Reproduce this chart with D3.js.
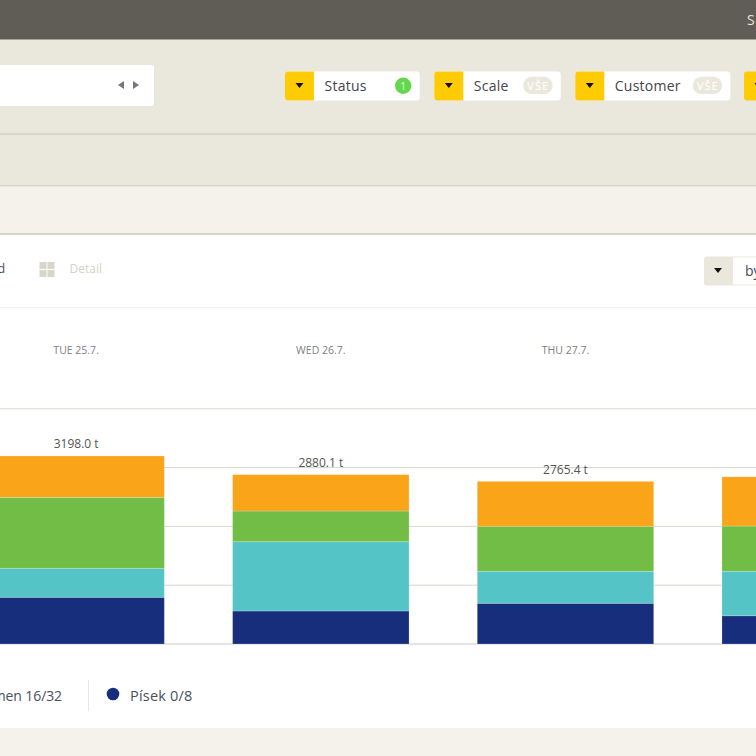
<!DOCTYPE html>
<html>
<head>
<meta charset="utf-8">
<script src="https://cdn.jsdelivr.net/npm/d3@7"></script>
<style>
html, body { margin: 0; padding: 0; width: 756px; height: 756px; overflow: hidden; background: #fff; }
svg { display: block; }
text { font-family: "Open Sans", "Noto Sans", sans-serif; }
</style>
</head>
<body>
<script>
var days = ["TUE 25.7.", "WED 26.7.", "THU 27.7.", "FRI 28.7."];
var totals = [3198.0, 2880.1, 2765.4, 2844.2];
var seriesKeys = ["pisek", "kamen", "serie3", "serie4"];
var pisek = [794, 561, 692, 481];
var kamen = [493, 1179, 544, 755];
var serie3 = [1207, 522, 765, 770];
var serie4 = [704, 618.1, 764.4, 838.2];
var gridTicks = [0, 1000, 2000, 3000, 4000];
var filterLabels = ["Status", "Scale", "Customer"];
var filterBadges = ["1", "VŠE", "VŠE"];
var legendLabels = ["Kámen 16/32", "Písek 0/8"];

var seriesColors = ["#172e7c", "#54c4c7", "#71bd46", "#faa41a"];

var svg = d3.select("body").append("svg").attr("width", 756).attr("height", 756);

function band(y, h, color) {
    svg.append("rect").attr("x", 0).attr("y", y).attr("width", 756).attr("height", h).attr("fill", color);
}
function hline(y, color) {
    svg.append("line").attr("x1", 0).attr("x2", 756).attr("y1", y).attr("y2", y).attr("stroke", color);
}
function arrow(cx, cy, color) {
    svg.append("path").attr("d", "M" + (cx - 4) + " " + (cy - 2.5) + "h8l-4 5z").attr("fill", color);
}

// page bands
band(0, 40, "#5f5d56");
band(39, 1, "#a9a798");
band(40, 147, "#eae8dc");
band(133, 2, "#d8d6c8");
hline(185.5, "#d8d6c8");
band(187, 47, "#f5f2eb");
band(233, 2, "#d8d6c8");
band(235, 493, "#ffffff");
band(728, 28, "#f5f2eb");
hline(307.5, "#f2f0ea");

svg.append("text").attr("x", 747).attr("y", 25).attr("fill", "#e8e6da").style("font-size", "14px").text("S");

// date box
svg.append("rect").attr("x", -10).attr("y", 65).attr("width", 164).attr("height", 41).attr("rx", 3).attr("fill", "#fff");
svg.append("path").attr("d", "M124 81v8l-6-4z").attr("fill", "#777");
svg.append("path").attr("d", "M133 81v8l6-4z").attr("fill", "#777");

// filter chips
var chipX = [285, 434.3, 575.3, 744];
var chipW = [134.7, 126.4, 155, 60];
filterLabels.forEach(function (label, i) {
    var x = chipX[i], w = chipW[i];
    svg.append("rect").attr("x", x).attr("y", 71.5).attr("width", w).attr("height", 29).attr("rx", 3).attr("fill", "#fff");
    svg.append("path").attr("d", "M" + (x + 3) + " 71.5h26v29h-26a3 3 0 0 1-3-3v-23a3 3 0 0 1 3-3z").attr("fill", "#fecb05");
    arrow(x + 14.5, 85.5, "#111");
    svg.append("text").attr("x", x + 39.5).attr("y", 91).attr("fill", "#44444a").style("font-size", "14px").style("letter-spacing", "0.25px").text(label);
    if (i === 0) {
        svg.append("circle").attr("cx", x + w - 16.5).attr("cy", 85.7).attr("r", 8.2).attr("fill", "#62d84c");
        svg.append("text").attr("x", x + w - 16.5).attr("y", 89.5).attr("text-anchor", "middle").attr("fill", "#f4f4e8").style("font-size", "10px").text(filterBadges[i]);
    } else {
        svg.append("rect").attr("x", x + w - 37.5).attr("y", 76.7).attr("width", 29.4).attr("height", 17.4).attr("rx", 8.7).attr("fill", "#eae8dc");
        svg.append("text").attr("x", x + w - 22.6).attr("y", 89.8).attr("text-anchor", "middle").attr("fill", "#fdfcf8").style("font-size", "11px").style("font-weight", "600").style("letter-spacing", "1px").text(filterBadges[i]);
    }
});
svg.append("path").attr("d", "M747 71.5h29v29h-29a3 3 0 0 1-3-3v-23a3 3 0 0 1 3-3z").attr("fill", "#fecb05");
arrow(758.5, 85.5, "#111");

// toolbar
svg.append("text").attr("x", 5).attr("y", 273).attr("text-anchor", "end").attr("fill", "#3d4a5c").style("font-size", "12px").text("Standard");
[[39.5, 262], [47.5, 262], [39.5, 270], [47.5, 270]].forEach(function (p) {
    svg.append("rect").attr("x", p[0]).attr("y", p[1]).attr("width", 7).attr("height", 7).attr("fill", "#d8d6c8");
});
svg.append("text").attr("x", 69.5).attr("y", 273).attr("fill", "#d4d2c4").style("font-size", "12px").text("Detail");
svg.append("rect").attr("x", 704).attr("y", 256.5).attr("width", 60).attr("height", 29).attr("rx", 3).attr("fill", "#eae8dc");
svg.append("rect").attr("x", 733).attr("y", 257.5).attr("width", 30).attr("height", 27).attr("fill", "#fff");
arrow(718, 270.5, "#111");
svg.append("text").attr("x", 745).attr("y", 276).attr("fill", "#3d4a5c").style("font-size", "14px").text("by");

// chart
var x = d3.scaleBand().domain(days).range([-46.2, 932.5]).paddingInner(0.279).paddingOuter(0.1395);
var y = d3.scaleLinear().domain([0, 4000]).range([644, 408.8]);

var grid = d3.axisLeft(y).tickValues(gridTicks).tickSize(-756).tickFormat("").offset(0);
svg.append("g").call(grid).call(function (g) {
    g.select(".domain").remove();
    g.selectAll(".tick line").attr("stroke", function (d) { return d === 0 ? "#c9c9c9" : "#d8d7c9"; });
});

var rows = days.map(function (d, i) {
    return { day: d, pisek: pisek[i], kamen: kamen[i], serie3: serie3[i], serie4: serie4[i] };
});
var stacked = d3.stack().keys(seriesKeys)(rows);

svg.append("g").selectAll("g").data(stacked).join("g")
    .attr("fill", function (d, i) { return seriesColors[i]; })
    .selectAll("rect").data(function (d) { return d; }).join("rect")
    .attr("x", function (d) { return x(d.data.day); })
    .attr("y", function (d) { return y(d[1]); })
    .attr("width", x.bandwidth())
    .attr("height", function (d) { return y(d[0]) - y(d[1]); })
    .attr("stroke", "#fff").attr("stroke-opacity", 0.2);

svg.append("g").selectAll("text").data(days).join("text")
    .attr("x", function (d) { return x(d) + x.bandwidth() / 2; })
    .attr("y", 354)
    .attr("text-anchor", "middle").attr("fill", "#808080").style("font-size", "10.5px")
    .text(function (d) { return d; });

svg.append("g").selectAll("text").data(totals).join("text")
    .attr("x", function (d, i) { return x(days[i]) + x.bandwidth() / 2; })
    .attr("y", function (d) { return y(d) - 7.5; })
    .attr("text-anchor", "middle").attr("fill", "#555").style("font-size", "12px")
    .text(function (d) { return d.toFixed(1) + " t"; });

// legend
svg.append("text").attr("x", 62).attr("y", 701).attr("text-anchor", "end").attr("fill", "#4a4f5c").style("font-size", "14px").style("letter-spacing", "-0.1px").text(legendLabels[0]);
svg.append("line").attr("x1", 88.5).attr("x2", 88.5).attr("y1", 680).attr("y2", 711).attr("stroke", "#eae8dc");
svg.append("circle").attr("cx", 113).attr("cy", 694).attr("r", 6.3).attr("fill", seriesColors[0]);
svg.append("text").attr("x", 130).attr("y", 701).attr("fill", "#4a4f5c").style("font-size", "14.5px").style("letter-spacing", "0.2px").text(legendLabels[1]);
</script>
</body>
</html>
